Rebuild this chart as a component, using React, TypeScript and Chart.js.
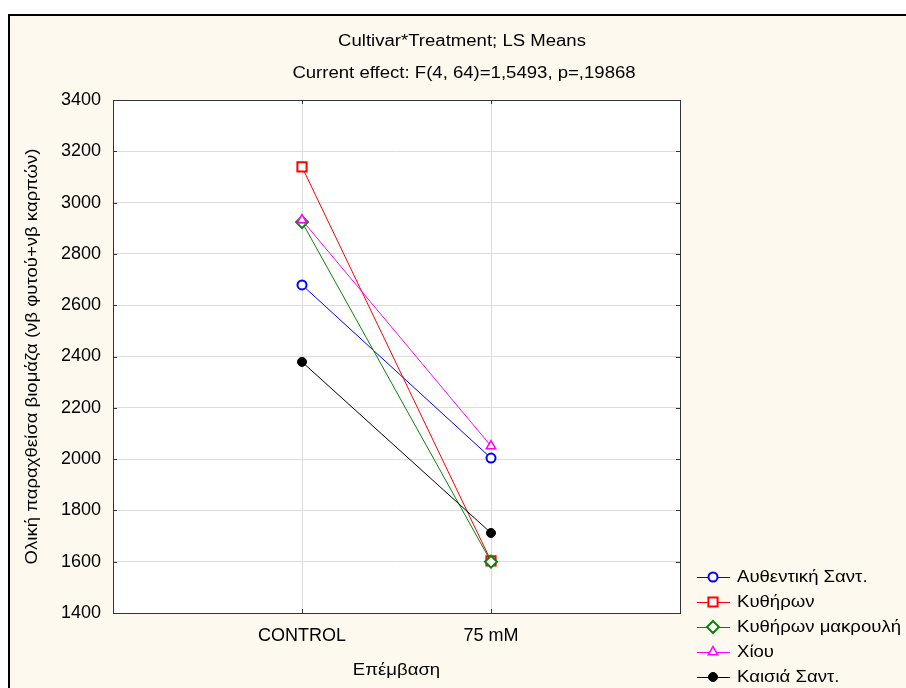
import React, { useEffect, useRef } from 'react';
import { Chart, registerables } from 'chart.js';

Chart.register(...registerables);

// Treatment levels on the x axis
const categories = ['CONTROL', '75 mM'];

// LS means of total biomass per cultivar (CONTROL, 75 mM)
const authentikiSant = [2679, 2004];
const kythiron = [3139, 1603];
const kythironMakrouli = [2924, 1600];
const chiou = [2932, 2051];
const kaisiaSant = [2379, 1712];

const seriesNames = ['Αυθεντική Σαντ.', 'Κυθήρων', 'Κυθήρων μακρουλή', 'Χίου', 'Καισιά Σαντ.'];
const seriesValues = [authentikiSant, kythiron, kythironMakrouli, chiou, kaisiaSant];

const yMin = 1400;
const yMax = 3400;
const yStep = 200;

const titleLine1 = 'Cultivar*Treatment; LS Means';
const titleLine2 = 'Current effect: F(4, 64)=1,5493, p=,19868';
const xTitle = 'Επέμβαση';
const yTitle = 'Ολική παραχθείσα βιομάζα (νβ φυτού+νβ καρπών)';

const FONT = '"Liberation Sans", Arial, sans-serif';
// the graph's lettering is set slightly wide
const TEXT_STRETCH = 1.16;

type MarkerStyle = {
  color: string;
  shape: 'circle' | 'rect' | 'rectRot' | 'triangle' | 'dot';
  radius: number;
  width: number;
};

const markerStyles: MarkerStyle[] = [
  { color: '#0000ff', shape: 'circle', radius: 4.5, width: 2 },
  { color: '#ff0000', shape: 'rect', radius: 6.5, width: 2 },
  { color: '#0a820a', shape: 'rectRot', radius: 6, width: 2 },
  { color: '#ff00ff', shape: 'triangle', radius: 5.5, width: 1.5 },
  { color: '#000000', shape: 'dot', radius: 4.5, width: 1 },
];

function drawMarker(ctx: CanvasRenderingContext2D, m: MarkerStyle, x: number, y: number) {
  ctx.save();
  ctx.lineWidth = m.width;
  ctx.strokeStyle = m.color;
  ctx.fillStyle = m.shape === 'dot' ? m.color : '#ffffff';
  ctx.beginPath();
  if (m.shape === 'circle' || m.shape === 'dot') {
    ctx.arc(x, y, m.radius, 0, Math.PI * 2);
  } else if (m.shape === 'rect') {
    const s = m.radius * Math.SQRT1_2;
    ctx.rect(x - s, y - s, 2 * s, 2 * s);
  } else if (m.shape === 'rectRot') {
    ctx.moveTo(x, y - m.radius);
    ctx.lineTo(x + m.radius, y);
    ctx.lineTo(x, y + m.radius);
    ctx.lineTo(x - m.radius, y);
    ctx.closePath();
  } else if (m.shape === 'triangle') {
    const r = m.radius;
    ctx.moveTo(x, y - r);
    ctx.lineTo(x + r * 0.866, y + r * 0.5);
    ctx.lineTo(x - r * 0.866, y + r * 0.5);
    ctx.closePath();
  }
  ctx.fill();
  ctx.stroke();
  ctx.restore();
}

function wideText(ctx: CanvasRenderingContext2D, text: string, x: number, y: number) {
  ctx.save();
  ctx.translate(x, y);
  ctx.scale(TEXT_STRETCH, 1);
  ctx.fillText(text, 0, 0);
  ctx.restore();
}

const framePlugin = {
  id: 'statFrame',
  beforeDraw(chart: any) {
    const { ctx, width, height, chartArea } = chart;
    ctx.save();
    ctx.fillStyle = '#ffffff';
    ctx.fillRect(0, 0, width, height);
    ctx.fillStyle = '#fef9ee';
    ctx.fillRect(9, 15, width - 9, height - 15);
    ctx.strokeStyle = '#000000';
    ctx.lineWidth = 2;
    ctx.beginPath();
    ctx.moveTo(9, height + 2);
    ctx.lineTo(9, 15);
    ctx.lineTo(width + 2, 15);
    ctx.stroke();
    ctx.fillStyle = '#ffffff';
    ctx.fillRect(chartArea.left, chartArea.top, chartArea.right - chartArea.left, chartArea.bottom - chartArea.top);
    ctx.restore();
  },
  afterDraw(chart: any) {
    const { ctx, chartArea } = chart;
    const { left, right, top, bottom } = chartArea;
    const xs = chart.scales.x;
    const ys = chart.scales.y;
    ctx.save();

    // plot frame and inward ticks
    ctx.strokeStyle = '#333333';
    ctx.lineWidth = 1;
    ctx.strokeRect(Math.round(left) + 0.5, Math.round(top) + 0.5, Math.round(right - left), Math.round(bottom - top));
    ctx.beginPath();
    ys.ticks.forEach((t: any) => {
      const py = Math.round(ys.getPixelForValue(t.value)) + 0.5;
      ctx.moveTo(left, py);
      ctx.lineTo(left + 4, py);
      ctx.moveTo(right, py);
      ctx.lineTo(right - 4, py);
    });
    xs.ticks.forEach((t: any) => {
      const px = Math.round(xs.getPixelForValue(t.value)) + 0.5;
      ctx.moveTo(px, bottom);
      ctx.lineTo(px, bottom - 4);
      ctx.moveTo(px, top);
      ctx.lineTo(px, top + 4);
    });
    ctx.stroke();

    // titles
    ctx.fillStyle = '#000000';
    ctx.textAlign = 'center';
    ctx.textBaseline = 'middle';
    ctx.font = `16px ${FONT}`;
    wideText(ctx, titleLine1, 462, 42);
    wideText(ctx, titleLine2, 464, 74);

    // axis titles
    wideText(ctx, xTitle, (left + right) / 2, 671);
    ctx.save();
    ctx.translate(33, (top + bottom) / 2);
    ctx.rotate(-Math.PI / 2);
    wideText(ctx, yTitle, 0, 0);
    ctx.restore();

    // legend
    ctx.textAlign = 'left';
    chart.data.datasets.forEach((ds: any, i: number) => {
      const m = markerStyles[i];
      const ly = 577 + i * 25;
      ctx.strokeStyle = m.color;
      ctx.lineWidth = 1;
      ctx.beginPath();
      ctx.moveTo(697, ly + 0.5);
      ctx.lineTo(730, ly + 0.5);
      ctx.stroke();
      drawMarker(ctx, m, 713, ly);
      ctx.fillStyle = '#000000';
      wideText(ctx, ds.label, 737, ly + 1);
    });
    ctx.restore();
  },
};

export default function App() {
  const canvasRef = useRef<HTMLCanvasElement | null>(null);

  useEffect(() => {
    const canvas = canvasRef.current;
    if (!canvas) return;

    const datasets = seriesNames.map((name, i) => {
      const m = markerStyles[i];
      const pointStyle = m.shape === 'dot' ? 'circle' : m.shape;
      return {
        label: name,
        data: seriesValues[i].map((v, j) => ({ x: j + 1, y: v })),
        borderColor: m.color,
        borderWidth: 1,
        pointStyle,
        pointRadius: m.radius,
        pointHoverRadius: m.radius,
        pointBorderWidth: m.width,
        pointBorderColor: m.color,
        pointBackgroundColor: m.shape === 'dot' ? m.color : '#ffffff',
        fill: false,
        tension: 0,
        order: seriesNames.length - i,
      };
    });

    const chart = new Chart(canvas, {
      type: 'line',
      data: { datasets },
      options: {
        responsive: false,
        animation: false,
        layout: { padding: { left: 0, top: 100, right: 226, bottom: 0 } },
        plugins: {
          legend: { display: false },
          title: { display: false },
          tooltip: { enabled: false },
        },
        scales: {
          x: {
            type: 'linear',
            min: 0,
            max: categories.length + 1,
            afterBuildTicks: (scale: any) => {
              scale.ticks = categories.map((_, i) => ({ value: i + 1 }));
            },
            afterFit: (scale: any) => {
              scale.height = 75;
            },
            ticks: {
              callback: (v: any) => categories[Number(v) - 1] ?? '',
              color: '#000000',
              font: { family: FONT, size: 18 },
              padding: 12,
              maxRotation: 0,
              autoSkip: false,
            },
            grid: { color: '#dcdcdc', drawTicks: false },
            border: { display: false },
          },
          y: {
            type: 'linear',
            min: yMin,
            max: yMax,
            afterFit: (scale: any) => {
              scale.width = 113;
            },
            ticks: {
              stepSize: yStep,
              callback: (v: any) => String(v),
              color: '#000000',
              font: { family: FONT, size: 18 },
              padding: 12,
            },
            grid: { color: '#dcdcdc', drawTicks: false },
            border: { display: false },
          },
        },
      },
      plugins: [framePlugin],
    });

    return () => chart.destroy();
  }, []);

  return (
    <div style={{ position: 'absolute', left: 0, top: 0, width: 906, height: 688 }}>
      <canvas ref={canvasRef} width={906} height={688} />
    </div>
  );
}
